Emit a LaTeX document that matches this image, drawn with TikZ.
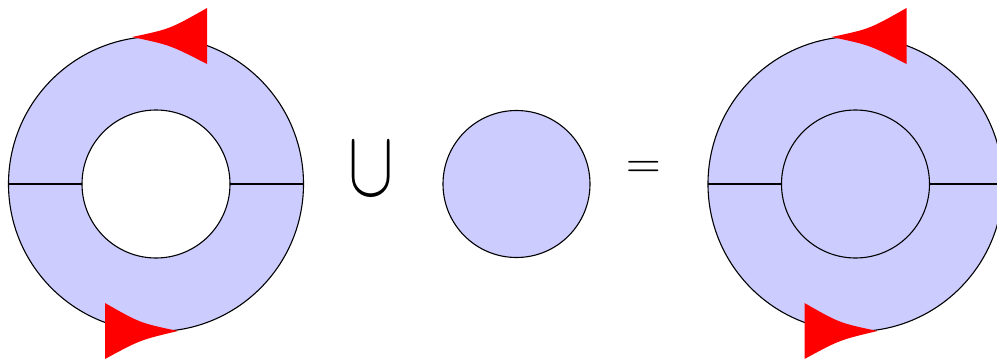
\documentclass[tikz,border=0pt]{standalone}
\usepackage{graphicx}
\definecolor{ringfill}{RGB}{204,204,255}
\begin{document}
\begin{tikzpicture}[x=1pt,y=-1pt,
  ring/.style={fill=ringfill,draw=black,line width=1.1pt,even odd rule},
  disk/.style={fill=ringfill,draw=black,line width=1.1pt},
  radial/.style={line width=1.8pt},
  arrowhead/.style={fill=red,draw=none}]
\useasboundingbox (0,0) rectangle (997,362);
% left annulus
\coordinate (L) at (156,184);
\draw[ring] (L) circle[radius=147.5] (L) circle[radius=74];
\draw[radial] (8.5,184) -- (82,184) (230,184) -- (303.5,184);
\fill[arrowhead] (132,37) .. controls (170,29) .. (207,8) -- (207,64) .. controls (170,45) .. (132,37) -- cycle;
\fill[arrowhead] (178,331) .. controls (140,323) .. (105,303) -- (105,359) .. controls (140,340) .. (178,331) -- cycle;
% union symbol
\node[inner sep=0pt] (cup) at (371,169) {\scalebox{6.8}[9.4]{$\cup$}};
% middle disk
\coordinate (M) at (516.5,184);
\draw[disk] (M) circle[radius=73.5];
% equals
\node[font=\fontsize{48}{48}\selectfont,inner sep=0pt] (eq) at (644,170) {=};
% right disk
\coordinate (R) at (855.5,184);
\draw[disk] (R) circle[radius=147.5];
\draw[disk] (R) circle[radius=74];
\draw[radial] (708,184) -- (781.5,184) (929.5,184) -- (1003,184);
\fill[arrowhead] (831.5,37) .. controls (869.5,29) .. (906.5,8) -- (906.5,64) .. controls (869.5,45) .. (831.5,37) -- cycle;
\fill[arrowhead] (877.5,331) .. controls (839.5,323) .. (804.5,303) -- (804.5,359) .. controls (839.5,340) .. (877.5,331) -- cycle;
\end{tikzpicture}
\end{document}
